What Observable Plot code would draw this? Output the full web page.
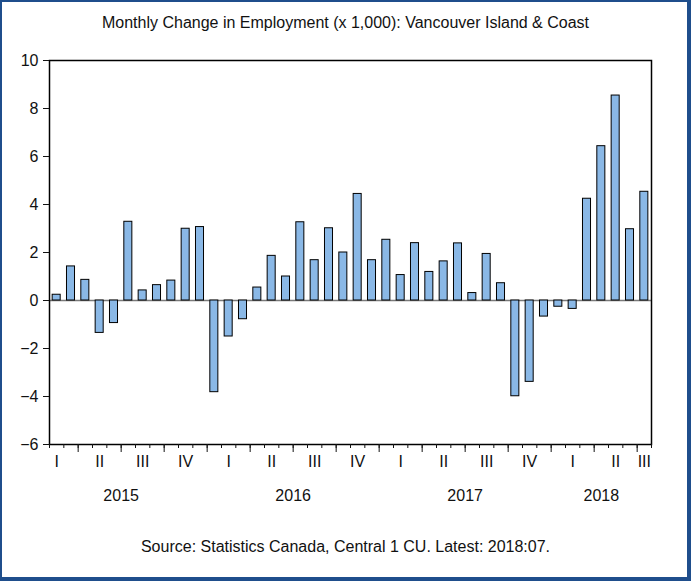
<!DOCTYPE html>
<html><head><meta charset="utf-8">
<script src="https://cdn.jsdelivr.net/npm/d3@7"></script>
<script src="https://cdn.jsdelivr.net/npm/@observablehq/plot@0.6"></script>
<style>
body{margin:0;background:#fff;}
#wrap{position:relative;width:691px;height:581px;overflow:hidden;font-family:"Liberation Sans",Arial,sans-serif;color:#111;}
#border{position:absolute;left:0;top:0;width:691px;height:581px;box-sizing:border-box;border-style:solid;border-color:#1f4e8c;border-width:2px 4px 4px 2px;pointer-events:none;}
#title{position:absolute;left:0;width:691px;top:14px;text-align:center;font-size:16px;white-space:nowrap;}
#chart{position:absolute;left:0;top:40px;}
#caption{position:absolute;left:0;width:691px;top:538px;text-align:center;font-size:16px;white-space:nowrap;}
</style>
</head><body>
<div id="wrap">
  <div id="title">Monthly Change in Employment (x 1,000): Vancouver Island &amp; Coast</div>
  <div id="chart"></div>
  <div id="caption">Source: Statistics Canada, Central 1 CU. Latest: 2018:07.</div>
  <div id="border"></div>
</div>
<script>
const months = ["2015-02","2015-03","2015-04","2015-05","2015-06","2015-07","2015-08","2015-09","2015-10","2015-11","2015-12",
  "2016-01","2016-02","2016-03","2016-04","2016-05","2016-06","2016-07","2016-08","2016-09","2016-10","2016-11","2016-12",
  "2017-01","2017-02","2017-03","2017-04","2017-05","2017-06","2017-07","2017-08","2017-09","2017-10","2017-11","2017-12",
  "2018-01","2018-02","2018-03","2018-04","2018-05","2018-06","2018-07"];
const values = [0.24,1.42,0.86,-1.35,-0.94,3.28,0.42,0.64,0.83,2.99,3.06,
  -3.82,-1.50,-0.78,0.54,1.86,1.00,3.26,1.68,3.01,2.00,4.44,1.68,
  2.53,1.06,2.39,1.19,1.63,2.38,0.31,1.94,0.72,-3.99,-3.39,-0.67,
  -0.26,-0.35,4.24,6.43,8.54,2.97,4.53];
const quarterNames = ["I","II","III","IV"];
const yTicks = [-6,-4,-2,0,2,4,6,8,10];
const yDomain = [-6,10];

const n = months.length;
const yr = m => +m.slice(0,4);
const mo = m => +m.slice(5,7);
const data = months.map((m,i)=>({i, month:m, value:values[i]}));

// quarter and year label positions (centre of period span, clipped at data end)
const quarters = [], years = [];
const seenQ = new Set(), seenY = new Set();
months.forEach((m,i)=>{
  const q = Math.floor((mo(m)-1)/3);
  const qk = yr(m)+"Q"+q;
  if(!seenQ.has(qk)){
    seenQ.add(qk);
    const s = i - ((mo(m)-1)%3);
    quarters.push({label: quarterNames[q], pos: (s + Math.min(s+3, n))/2});
  }
  const yk = yr(m);
  if(!seenY.has(yk)){
    seenY.add(yk);
    const s = i - (mo(m)-1);
    years.push({label: String(yk), pos: (s + Math.min(s+12, n))/2});
  }
});
const monthBounds = d3.range(0, n+1);
const quarterBounds = months.map((m,i)=>((mo(m)-1)%3===0 ? i : null)).filter(v=>v!==null);

const chart = Plot.plot({
  width: 691,
  height: 490,
  marginLeft: 49,
  marginRight: 40,
  marginTop: 20,
  marginBottom: 86,
  style: {fontFamily: '"Liberation Sans", Arial, sans-serif', fontSize: "16px", background: "transparent", color: "#111"},
  x: {domain: [0, n]},
  y: {domain: yDomain},
  marks: [
    Plot.ruleY([0], {stroke: "#7a7a7a", strokeWidth: 1.5}),
    Plot.rect(data, {x1: d => d.i + 0.22, x2: d => d.i + 0.78, y1: 0, y2: "value", fill: "#8ab8e6", stroke: "#000", strokeWidth: 1}),
    Plot.frame({stroke: "#000", strokeWidth: 1.5}),
    Plot.axisY({ticks: yTicks, tickSize: 6, tickPadding: 5, label: null, fontSize: 16}),
    Plot.axisX({ticks: monthBounds, tickSize: 4, tickFormat: () => "", label: null}),
    Plot.axisX({ticks: quarterBounds, tickSize: 8, tickFormat: () => "", label: null}),
    Plot.text(quarters, {x: "pos", text: "label", frameAnchor: "bottom", dy: 22, fontSize: 16}),
    Plot.text(years, {x: "pos", text: "label", frameAnchor: "bottom", dy: 56, fontSize: 16})
  ]
});
document.getElementById("chart").appendChild(chart);
</script>
</body></html>
